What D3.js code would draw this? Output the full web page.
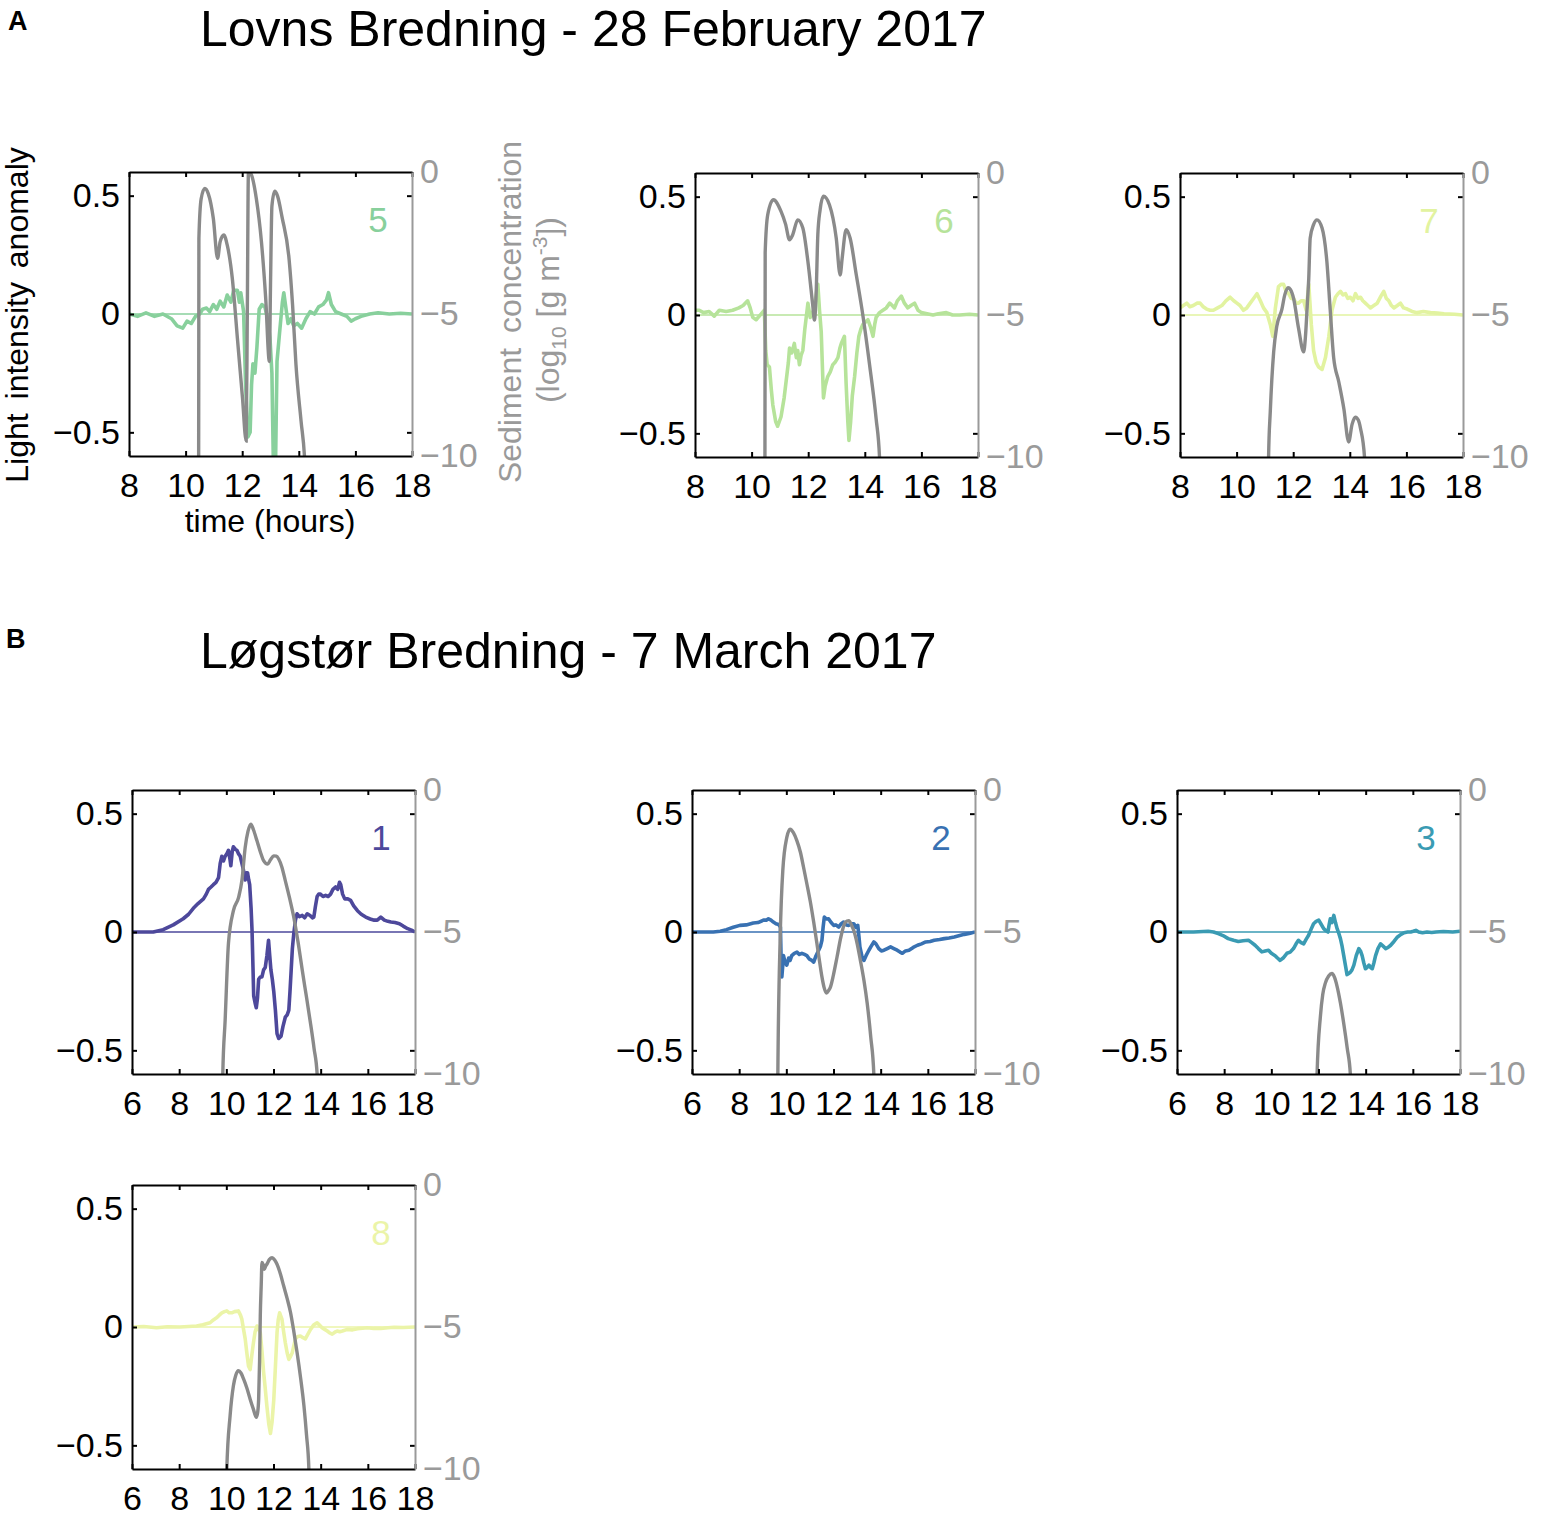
<!DOCTYPE html>
<html lang="en">
<head>
  <meta charset="UTF-8">
  <title>Light intensity anomaly and sediment concentration</title>
  <script src="https://d3js.org/d3.v7.min.js"></script>
  <style>
    body { margin: 0; background: #fff; }
    svg { display: block; font-family: "Liberation Sans", Arial, sans-serif; }
  </style>
</head>
<body>
  <div id="chart"></div>
  <script>
    // ---- data: [hour, value] ----
    const stations = ["5", "6", "7", "1", "2", "3", "8"]
    const xTicksA = [8, 10, 12, 14, 16, 18]
    const xTicksB = [6, 8, 10, 12, 14, 16, 18]
    const lightTicks = [-0.5, 0, 0.5]
    const sedTicks = [-10, -5, 0]

    // light intensity anomaly
    const light5 = [[8.0,0],[8.3,-0.01],[8.6,0.005],[8.9,-0.01],[9.2,0],[9.5,-0.02],[9.7,-0.05],[9.9,-0.06],[10.05,-0.03],[10.2,-0.04],[10.35,-0.01],[10.5,0],[10.6,0.02],[10.74,0.025],[10.85,0.01],[10.98,0.04],[11.1,0.02],[11.22,0.054],[11.35,0.03],[11.47,0.08],[11.6,0.05],[11.7,0.1],[11.83,0.1],[11.9,0.05],[11.95,0.09],[12.05,0.01],[12.12,-0.3],[12.2,-0.52],[12.28,-0.5],[12.33,-0.3],[12.38,-0.21],[12.45,-0.25],[12.52,-0.14],[12.6,0.02],[12.7,0.04],[12.8,0.03],[12.9,-0.02],[12.98,-0.1],[13.05,-0.25],[13.1,-0.62],[13.18,-0.62],[13.23,-0.2],[13.32,-0.08],[13.42,0.05],[13.47,0.09],[13.55,0.02],[13.62,-0.04],[13.72,-0.02],[13.82,-0.05],[13.95,-0.04],[14.1,-0.06],[14.25,-0.02],[14.4,0.01],[14.55,0],[14.7,0.03],[14.85,0.04],[14.98,0.06],[15.05,0.09],[15.15,0.04],[15.3,0.01],[15.5,0],[15.7,-0.01],[15.85,-0.03],[16.0,-0.02],[16.2,-0.01],[16.5,0],[16.8,0.005],[17.2,0],[17.6,0.003],[18,0]]
    const light6 = [[8,0.02],[8.15,0.02],[8.3,0.01],[8.5,0.015],[8.68,-0.005],[8.86,0.02],[9.1,0.015],[9.33,0.02],[9.55,0.03],[9.7,0.04],[9.86,0.06],[9.95,0.03],[10.04,-0.01],[10.16,-0.02],[10.34,0.005],[10.45,0.02],[10.5,-0.15],[10.55,-0.21],[10.63,-0.22],[10.7,-0.32],[10.75,-0.38],[10.85,-0.45],[10.92,-0.47],[11.04,-0.43],[11.15,-0.35],[11.22,-0.28],[11.3,-0.2],[11.34,-0.14],[11.42,-0.16],[11.51,-0.12],[11.58,-0.18],[11.63,-0.15],[11.69,-0.21],[11.75,-0.17],[11.81,-0.15],[11.88,-0.06],[11.93,-0.01],[11.99,0.05],[12.07,-0.01],[12.15,0.01],[12.22,0.03],[12.3,0.1],[12.34,0.13],[12.4,0.02],[12.46,-0.07],[12.54,-0.35],[12.6,-0.3],[12.69,-0.26],[12.78,-0.24],[12.87,-0.21],[12.95,-0.2],[13.05,-0.18],[13.12,-0.14],[13.17,-0.12],[13.28,-0.09],[13.34,-0.29],[13.4,-0.45],[13.44,-0.53],[13.5,-0.45],[13.56,-0.34],[13.64,-0.26],[13.72,-0.16],[13.79,-0.09],[13.86,-0.06],[13.93,-0.04],[14.02,-0.03],[14.11,-0.02],[14.2,-0.05],[14.29,-0.09],[14.35,-0.04],[14.4,-0.01],[14.52,0.01],[14.64,0.02],[14.76,0.03],[14.88,0.05],[14.97,0.04],[15.05,0.03],[15.15,0.06],[15.29,0.08],[15.4,0.05],[15.52,0.03],[15.63,0.04],[15.76,0.05],[15.88,0.02],[16,0.01],[16.2,0.005],[16.41,0],[16.6,0.005],[16.88,0.01],[17.1,0],[17.35,0],[17.7,0.003],[18,0]]
    const light7 = [[8,0.03],[8.12,0.04],[8.24,0.05],[8.35,0.035],[8.47,0.04],[8.6,0.05],[8.71,0.05],[8.82,0.035],[8.94,0.025],[9.06,0.02],[9.18,0.02],[9.33,0.03],[9.48,0.04],[9.62,0.06],[9.77,0.075],[9.9,0.06],[10.01,0.05],[10.12,0.04],[10.24,0.02],[10.36,0.03],[10.48,0.05],[10.6,0.07],[10.72,0.09],[10.84,0.06],[10.95,0.03],[11.07,0.01],[11.19,-0.04],[11.28,-0.09],[11.37,0.03],[11.48,0.12],[11.58,0.13],[11.66,0.13],[11.75,0.1],[11.84,0.09],[11.93,0.07],[12.01,0.07],[12.1,0.05],[12.19,0.05],[12.28,0.06],[12.37,0.06],[12.46,0.02],[12.55,0.13],[12.64,-0.04],[12.72,-0.15],[12.81,-0.2],[12.9,-0.22],[13.02,-0.23],[13.14,-0.18],[13.26,-0.09],[13.37,0.02],[13.49,0.075],[13.58,0.09],[13.67,0.1],[13.76,0.085],[13.85,0.09],[13.93,0.07],[14.02,0.075],[14.11,0.06],[14.2,0.09],[14.29,0.07],[14.38,0.075],[14.46,0.06],[14.55,0.05],[14.64,0.04],[14.73,0.03],[14.85,0.04],[14.97,0.05],[15.1,0.08],[15.2,0.1],[15.29,0.07],[15.38,0.06],[15.47,0.04],[15.56,0.03],[15.68,0.04],[15.79,0.05],[15.9,0.03],[16.03,0.025],[16.2,0.015],[16.38,0.01],[16.6,0.015],[16.85,0.01],[17.1,0.008],[17.33,0.005],[17.7,0.003],[18,0]]
    const light1 = [[6,0],[6.9,0],[7.32,0.01],[7.75,0.03],[8.17,0.056],[8.4,0.075],[8.6,0.1],[8.8,0.12],[9.03,0.14],[9.15,0.16],[9.24,0.18],[9.35,0.19],[9.45,0.2],[9.56,0.21],[9.67,0.23],[9.74,0.29],[9.81,0.32],[9.88,0.3],[9.95,0.32],[10.02,0.33],[10.09,0.345],[10.15,0.31],[10.19,0.28],[10.25,0.34],[10.3,0.36],[10.38,0.35],[10.45,0.345],[10.52,0.33],[10.59,0.32],[10.66,0.29],[10.73,0.26],[10.8,0.22],[10.85,0.25],[10.9,0.25],[10.95,0.22],[10.99,0.2],[11.05,0.1],[11.09,0.007],[11.13,-0.15],[11.16,-0.27],[11.22,-0.3],[11.27,-0.32],[11.32,-0.28],[11.37,-0.2],[11.44,-0.19],[11.51,-0.19],[11.58,-0.16],[11.65,-0.15],[11.72,-0.1],[11.79,-0.035],[11.84,-0.1],[11.89,-0.16],[11.95,-0.2],[12.01,-0.25],[12.08,-0.33],[12.15,-0.43],[12.22,-0.45],[12.32,-0.44],[12.4,-0.4],[12.5,-0.36],[12.58,-0.35],[12.65,-0.33],[12.7,-0.25],[12.75,-0.16],[12.8,-0.07],[12.86,-0.007],[12.93,0.05],[13,0.077],[13.1,0.065],[13.22,0.07],[13.32,0.06],[13.43,0.077],[13.55,0.07],[13.65,0.06],[13.71,0.063],[13.78,0.11],[13.85,0.15],[13.92,0.16],[13.99,0.16],[14.1,0.15],[14.21,0.155],[14.32,0.15],[14.42,0.16],[14.52,0.18],[14.63,0.19],[14.72,0.18],[14.8,0.21],[14.85,0.2],[14.93,0.16],[15.02,0.14],[15.15,0.14],[15.27,0.134],[15.4,0.11],[15.56,0.09],[15.72,0.075],[15.91,0.063],[16.1,0.055],[16.27,0.05],[16.4,0.05],[16.55,0.063],[16.7,0.05],[16.85,0.045],[16.98,0.042],[17.15,0.04],[17.34,0.035],[17.5,0.025],[17.69,0.014],[17.85,0.008],[18,0]]
    const light2 = [[6,0],[6.9,0],[7.2,0.003],[7.46,0.01],[7.75,0.02],[8.03,0.028],[8.3,0.03],[8.6,0.038],[8.8,0.04],[9.03,0.05],[9.15,0.05],[9.24,0.056],[9.35,0.05],[9.45,0.042],[9.56,0.035],[9.67,0.032],[9.75,0.02],[9.78,-0.12],[9.81,-0.19],[9.85,-0.14],[9.88,-0.1],[9.95,-0.13],[10.02,-0.14],[10.1,-0.11],[10.16,-0.12],[10.23,-0.1],[10.34,-0.09],[10.45,-0.085],[10.55,-0.095],[10.66,-0.09],[10.77,-0.095],[10.87,-0.1],[10.98,-0.115],[11.08,-0.12],[11.16,-0.127],[11.26,-0.1],[11.37,-0.077],[11.45,-0.06],[11.51,-0.035],[11.56,0.02],[11.61,0.063],[11.7,0.055],[11.79,0.056],[11.9,0.04],[12.01,0.028],[12.1,0.03],[12.22,0.021],[12.33,0.035],[12.43,0.042],[12.55,0.03],[12.65,0.028],[12.75,0.035],[12.86,0.035],[12.95,0.02],[13.03,0.028],[13.08,-0.02],[13.12,-0.063],[13.2,-0.1],[13.29,-0.12],[13.38,-0.1],[13.5,-0.077],[13.6,-0.06],[13.71,-0.042],[13.8,-0.05],[13.92,-0.07],[14.03,-0.08],[14.14,-0.077],[14.28,-0.07],[14.42,-0.063],[14.56,-0.07],[14.7,-0.077],[14.82,-0.085],[14.92,-0.09],[15.05,-0.08],[15.2,-0.077],[15.38,-0.065],[15.56,-0.056],[15.73,-0.05],[15.91,-0.042],[16.1,-0.04],[16.27,-0.035],[16.5,-0.032],[16.7,-0.028],[16.9,-0.025],[17.12,-0.021],[17.35,-0.015],[17.55,-0.01],[17.8,-0.005],[18,0]]
    const light3 = [[6,0],[6.7,0],[7.32,0.003],[7.55,0],[7.75,-0.007],[7.95,-0.015],[8.17,-0.028],[8.4,-0.035],[8.6,-0.04],[8.8,-0.037],[9.03,-0.035],[9.17,-0.045],[9.31,-0.056],[9.45,-0.07],[9.6,-0.084],[9.74,-0.08],[9.88,-0.077],[10.0,-0.09],[10.16,-0.1],[10.26,-0.11],[10.37,-0.12],[10.5,-0.11],[10.66,-0.09],[10.8,-0.085],[10.94,-0.07],[11.05,-0.05],[11.15,-0.035],[11.26,-0.045],[11.37,-0.05],[11.48,-0.03],[11.58,-0.014],[11.68,0.01],[11.79,0.035],[11.9,0.045],[12.01,0.05],[12.1,0.035],[12.22,0.014],[12.32,0.005],[12.4,0],[12.45,0.03],[12.5,0.056],[12.57,0.04],[12.65,0.07],[12.72,0.04],[12.79,0.014],[12.86,-0.005],[12.93,-0.028],[13.0,-0.06],[13.07,-0.1],[13.14,-0.14],[13.21,-0.18],[13.28,-0.175],[13.35,-0.17],[13.42,-0.16],[13.5,-0.14],[13.6,-0.1],[13.71,-0.07],[13.78,-0.08],[13.85,-0.1],[13.92,-0.13],[13.99,-0.155],[14.06,-0.15],[14.14,-0.14],[14.21,-0.15],[14.28,-0.155],[14.35,-0.13],[14.42,-0.1],[14.52,-0.07],[14.63,-0.05],[14.74,-0.06],[14.85,-0.07],[14.95,-0.065],[15.06,-0.056],[15.2,-0.04],[15.35,-0.021],[15.5,-0.01],[15.63,-0.003],[15.78,0],[15.91,0],[16.02,0.003],[16.13,0.007],[16.25,0],[16.41,-0.003],[16.6,0],[16.8,-0.002],[16.98,0],[17.3,0.002],[17.69,0],[17.9,0.002],[18,0.003]]
    const light8 = [[6,0],[6.5,0.002],[7.04,-0.003],[7.5,0.001],[8.03,0],[8.4,0.002],[8.74,0.004],[9.0,0.01],[9.31,0.018],[9.45,0.03],[9.6,0.04],[9.7,0.05],[9.81,0.06],[9.92,0.065],[10.02,0.068],[10.12,0.06],[10.23,0.06],[10.35,0.065],[10.51,0.068],[10.6,0.05],[10.66,0.032],[10.73,-0.01],[10.8,-0.05],[10.87,-0.11],[10.94,-0.165],[11.01,-0.18],[11.08,-0.12],[11.15,-0.066],[11.22,-0.02],[11.3,0.004],[11.37,-0.01],[11.44,-0.024],[11.51,-0.1],[11.58,-0.19],[11.65,-0.26],[11.72,-0.335],[11.8,-0.41],[11.87,-0.45],[11.94,-0.4],[12.01,-0.31],[12.08,-0.17],[12.15,-0.024],[12.2,0.03],[12.26,0.06],[12.36,0.032],[12.43,-0.02],[12.5,-0.066],[12.58,-0.11],[12.65,-0.137],[12.72,-0.125],[12.79,-0.11],[12.86,-0.08],[12.93,-0.05],[13.03,-0.04],[13.14,-0.038],[13.25,-0.045],[13.35,-0.05],[13.46,-0.03],[13.57,-0.01],[13.7,0.008],[13.85,0.018],[13.95,0.008],[14.06,-0.003],[14.17,-0.01],[14.28,-0.017],[14.38,-0.025],[14.49,-0.03],[14.6,-0.022],[14.7,-0.017],[14.81,-0.02],[14.92,-0.017],[15.13,-0.01],[15.35,-0.012],[15.56,-0.007],[15.78,-0.005],[15.98,-0.003],[16.25,-0.006],[16.55,-0.006],[16.85,-0.003],[17.12,-0.001],[17.5,-0.002],[18,0]]

    // sediment concentration, log10 [g m-3]
    const sed5 = [[10.46,-11],[10.47,-2.34],[10.55,-0.94],[10.68,-0.58],[10.8,-0.76],[10.98,-1.64],[11.13,-3.04],[11.22,-2.46],[11.35,-2.22],[11.47,-2.57],[11.65,-3.74],[11.83,-5.85],[12.01,-7.95],[12.14,-9.47],[12.18,-5],[12.22,0],[12.3,-0.05],[12.5,-0.94],[12.68,-2.46],[12.83,-4.44],[12.96,-6.67],[13.0,-4],[13.05,-1.2],[13.15,-0.68],[13.25,-0.85],[13.41,-1.6],[13.66,-3.1],[13.78,-4.68],[13.9,-6.78],[14.08,-8.77],[14.2,-10],[14.25,-11]]
    const sed6 = [[10.47,-11],[10.48,-2.8],[10.57,-1.47],[10.77,-0.94],[11.04,-1.35],[11.2,-1.8],[11.34,-2.35],[11.45,-2.18],[11.63,-1.65],[11.81,-1.94],[11.99,-3.12],[12.16,-4.65],[12.22,-5.18],[12.28,-4.27],[12.34,-2.18],[12.42,-1.3],[12.54,-0.82],[12.75,-1.12],[12.99,-2.29],[13.13,-3.59],[13.2,-3.0],[13.34,-2.0],[13.48,-2.29],[13.7,-3.59],[13.93,-5.0],[14.17,-6.76],[14.4,-8.65],[14.52,-10],[14.56,-11]]
    const sed7 = [[11.12,-11],[11.13,-10],[11.19,-8.4],[11.31,-6.3],[11.42,-5.4],[11.6,-4.8],[11.7,-4.3],[11.82,-4.04],[11.9,-4.1],[12.01,-4.4],[12.19,-5.47],[12.37,-6.3],[12.43,-5.8],[12.5,-4.6],[12.55,-3.7],[12.6,-2.3],[12.72,-1.82],[12.84,-1.65],[13.02,-1.94],[13.19,-3.12],[13.31,-4.85],[13.43,-6.5],[13.61,-7.35],[13.79,-8.3],[13.96,-9.47],[14.08,-8.85],[14.2,-8.6],[14.3,-8.7],[14.38,-9.0],[14.52,-10],[14.56,-11]]
    const sed1 = [[9.84,-11],[9.85,-10],[9.95,-8.1],[10.09,-5.4],[10.3,-4.25],[10.52,-3.78],[10.66,-3.19],[10.8,-2.02],[10.92,-1.45],[11.04,-1.2],[11.15,-1.4],[11.3,-1.79],[11.45,-2.2],[11.58,-2.49],[11.75,-2.61],[11.88,-2.45],[12.01,-2.32],[12.12,-2.33],[12.22,-2.43],[12.35,-2.7],[12.5,-3.19],[12.68,-3.8],[12.86,-4.48],[13.05,-5.4],[13.22,-6.35],[13.4,-7.3],[13.57,-8.22],[13.72,-9.1],[13.85,-10],[13.9,-11]]
    const sed2 = [[9.63,-11],[9.64,-10],[9.74,-5.18],[9.85,-2.84],[10.02,-1.67],[10.16,-1.38],[10.3,-1.5],[10.45,-1.79],[10.6,-2.2],[10.73,-2.72],[10.87,-3.3],[11.01,-3.9],[11.16,-4.65],[11.3,-5.42],[11.42,-6.1],[11.51,-6.58],[11.6,-6.95],[11.7,-7.15],[11.8,-7.05],[11.87,-6.94],[12.0,-6.5],[12.15,-5.88],[12.32,-5.15],[12.5,-4.66],[12.65,-4.6],[12.76,-4.75],[12.86,-4.95],[13.0,-5.4],[13.14,-6.0],[13.29,-6.7],[13.43,-7.52],[13.58,-8.7],[13.71,-10],[13.75,-11]]
    const sed3 = [[11.93,-11],[11.94,-10],[12.08,-7.98],[12.18,-7.2],[12.29,-6.8],[12.43,-6.55],[12.57,-6.46],[12.68,-6.6],[12.79,-6.92],[12.93,-7.5],[13.07,-8.22],[13.22,-9.1],[13.35,-10],[13.36,-11]]
    const sed8 = [[10.01,-11],[10.02,-10],[10.16,-8.12],[10.3,-7.07],[10.4,-6.7],[10.51,-6.54],[10.62,-6.62],[10.73,-6.83],[10.87,-7.15],[11.01,-7.54],[11.15,-7.9],[11.27,-8.18],[11.33,-8.0],[11.37,-7.54],[11.41,-6.2],[11.44,-4.61],[11.48,-3.5],[11.51,-2.73],[11.56,-2.8],[11.61,-2.97],[11.67,-2.85],[11.72,-2.79],[11.83,-2.62],[11.94,-2.56],[12.05,-2.64],[12.15,-2.79],[12.3,-3.15],[12.43,-3.55],[12.58,-4.0],[12.72,-4.48],[12.86,-5.15],[13.0,-5.9],[13.15,-6.8],[13.29,-7.77],[13.4,-8.8],[13.5,-10],[13.52,-11]]

    // ---- layout and styles ----
    const W = 1541, H = 1525
    const pw = 283, ph = 284
    const grey = '#8a8a8a'
    const panels = [
      { id: stations[0], light: light5, sed: sed5, ticks: xTicksA, left: 129, top: 172, color: '#88d09c' },
      { id: stations[1], light: light6, sed: sed6, ticks: xTicksA, left: 695, top: 173, color: '#b6e39a' },
      { id: stations[2], light: light7, sed: sed7, ticks: xTicksA, left: 1180, top: 173, color: '#e2f3a0' },
      { id: stations[3], light: light1, sed: sed1, ticks: xTicksB, left: 132, top: 790, color: '#4d489b' },
      { id: stations[4], light: light2, sed: sed2, ticks: xTicksB, left: 692, top: 790, color: '#3871b2' },
      { id: stations[5], light: light3, sed: sed3, ticks: xTicksB, left: 1177, top: 790, color: '#3a9bb3' },
      { id: stations[6], light: light8, sed: sed8, ticks: xTicksB, left: 132, top: 1185, color: '#ebf4a8' }
    ]

    const svg = d3.select('#chart').append('svg')
      .attr('width', W)
      .attr('height', H)
      .style('background', '#fff')

    panels.forEach((p, i) => {
      const x = d3.scaleLinear()
        .domain(d3.extent(p.ticks))
        .range([0, pw])
      const yLight = d3.scaleLinear().domain([-0.6, 0.6]).range([ph, 0])
      const ySed = d3.scaleLinear().domain([-10, 0]).range([ph, 0])

      const g = svg.append('g')
        .attr('transform', `translate(${p.left},${p.top})`)

      g.append('clipPath')
        .attr('id', 'clip' + i)
        .append('rect')
        .attr('width', pw)
        .attr('height', ph)

      const plot = g.append('g').attr('clip-path', `url(#clip${i})`)

      // zero line of the anomaly
      plot.append('line')
        .attr('x1', 0).attr('x2', pw)
        .attr('y1', yLight(0)).attr('y2', yLight(0))
        .attr('stroke', p.color)
        .attr('stroke-width', 1.6)

      const lightLine = d3.line()
        .x(d => x(d[0]))
        .y(d => yLight(d[1]))
      plot.append('path')
        .datum(p.light)
        .attr('d', lightLine)
        .attr('fill', 'none')
        .attr('stroke', p.color)
        .attr('stroke-width', 3.6)
        .attr('stroke-linejoin', 'round')

      const sedLine = d3.line()
        .x(d => x(d[0]))
        .y(d => ySed(d[1]))
        .curve(d3.curveMonotoneX)
      plot.append('path')
        .datum(p.sed)
        .attr('d', sedLine)
        .attr('fill', 'none')
        .attr('stroke', grey)
        .attr('stroke-width', 3.4)

      // axes, ticks pointing in
      const bottom = g.append('g')
        .attr('transform', `translate(0,${ph})`)
        .call(d3.axisBottom(x).tickValues(p.ticks).tickSize(-5).tickSizeOuter(0).tickPadding(17))
      const top = g.append('g')
        .call(d3.axisTop(x).tickValues(p.ticks).tickSize(-5).tickSizeOuter(0).tickFormat(''))
      const left = g.append('g')
        .call(d3.axisLeft(yLight).tickValues(lightTicks).tickSize(-5).tickSizeOuter(0).tickPadding(9)
          .tickFormat(d => d === 0 ? '0' : d3.format('.1f')(d).replace('-', '\u2212')))
      const rightMirror = g.append('g')
        .attr('transform', `translate(${pw},0)`)
        .call(d3.axisRight(yLight).tickValues([-0.5, 0.5]).tickSize(-5).tickSizeOuter(0).tickFormat(''))
      const right = g.append('g')
        .attr('transform', `translate(${pw},0)`)
        .call(d3.axisRight(ySed).tickValues(sedTicks).tickSize(0).tickPadding(8)
          .tickFormat(d => String(d).replace('-', '\u2212')))

      ;[bottom, top, left, rightMirror].forEach(a => {
        a.select('.domain').attr('stroke', '#000').attr('stroke-width', 2)
        a.selectAll('.tick line').attr('stroke', '#000').attr('stroke-width', 2)
        a.selectAll('text').attr('font-size', 34).attr('fill', '#000')
          .attr('font-family', '"Liberation Sans", Arial, sans-serif')
      })
      rightMirror.select('.domain').remove()
      right.select('.domain').attr('stroke', '#9a9a9a').attr('stroke-width', 2)
      right.selectAll('text').attr('font-size', 34).attr('fill', '#9a9a9a')
        .attr('font-family', '"Liberation Sans", Arial, sans-serif')

      // station number
      g.append('text')
        .attr('x', pw - 34)
        .attr('y', 60)
        .attr('text-anchor', 'middle')
        .attr('font-size', 35)
        .attr('fill', p.color)
        .text(p.id)
    })

    // panel letters and titles
    svg.append('text').attr('x', 8).attr('y', 30)
      .attr('font-size', 27).attr('font-weight', 'bold').text('A')
    svg.append('text').attr('x', 200).attr('y', 46)
      .attr('font-size', 50).text('Lovns Bredning - 28 February 2017')
    svg.append('text').attr('x', 6).attr('y', 648)
      .attr('font-size', 27).attr('font-weight', 'bold').text('B')
    svg.append('text').attr('x', 200).attr('y', 668)
      .attr('font-size', 50).text('Løgstør Bredning - 7 March 2017')

    // axis titles on the first panel
    svg.append('text')
      .attr('transform', 'translate(28,315) rotate(-90)')
      .attr('text-anchor', 'middle')
      .attr('font-size', 32)
      .attr('word-spacing', 5)
      .text('Light intensity anomaly')
    svg.append('text')
      .attr('x', 270).attr('y', 532)
      .attr('text-anchor', 'middle')
      .attr('font-size', 32)
      .text('time (hours)')

    svg.append('text')
      .attr('transform', 'translate(521,312) rotate(-90)')
      .attr('text-anchor', 'middle')
      .attr('font-size', 32)
      .attr('word-spacing', 6)
      .attr('fill', '#9a9a9a')
      .text('Sediment concentration')

    const unit = svg.append('text')
      .attr('transform', 'translate(559,310) rotate(-90)')
      .attr('text-anchor', 'middle')
      .attr('font-size', 32)
      .attr('fill', '#9a9a9a')
    unit.append('tspan').text('(log')
    unit.append('tspan').attr('font-size', 21).attr('dy', 7).text('10')
    unit.append('tspan').attr('dy', -7).text(' [g m')
    unit.append('tspan').attr('font-size', 21).attr('dy', -12).text('-3')
    unit.append('tspan').attr('dy', 12).text('])')
  </script>
</body>
</html>
